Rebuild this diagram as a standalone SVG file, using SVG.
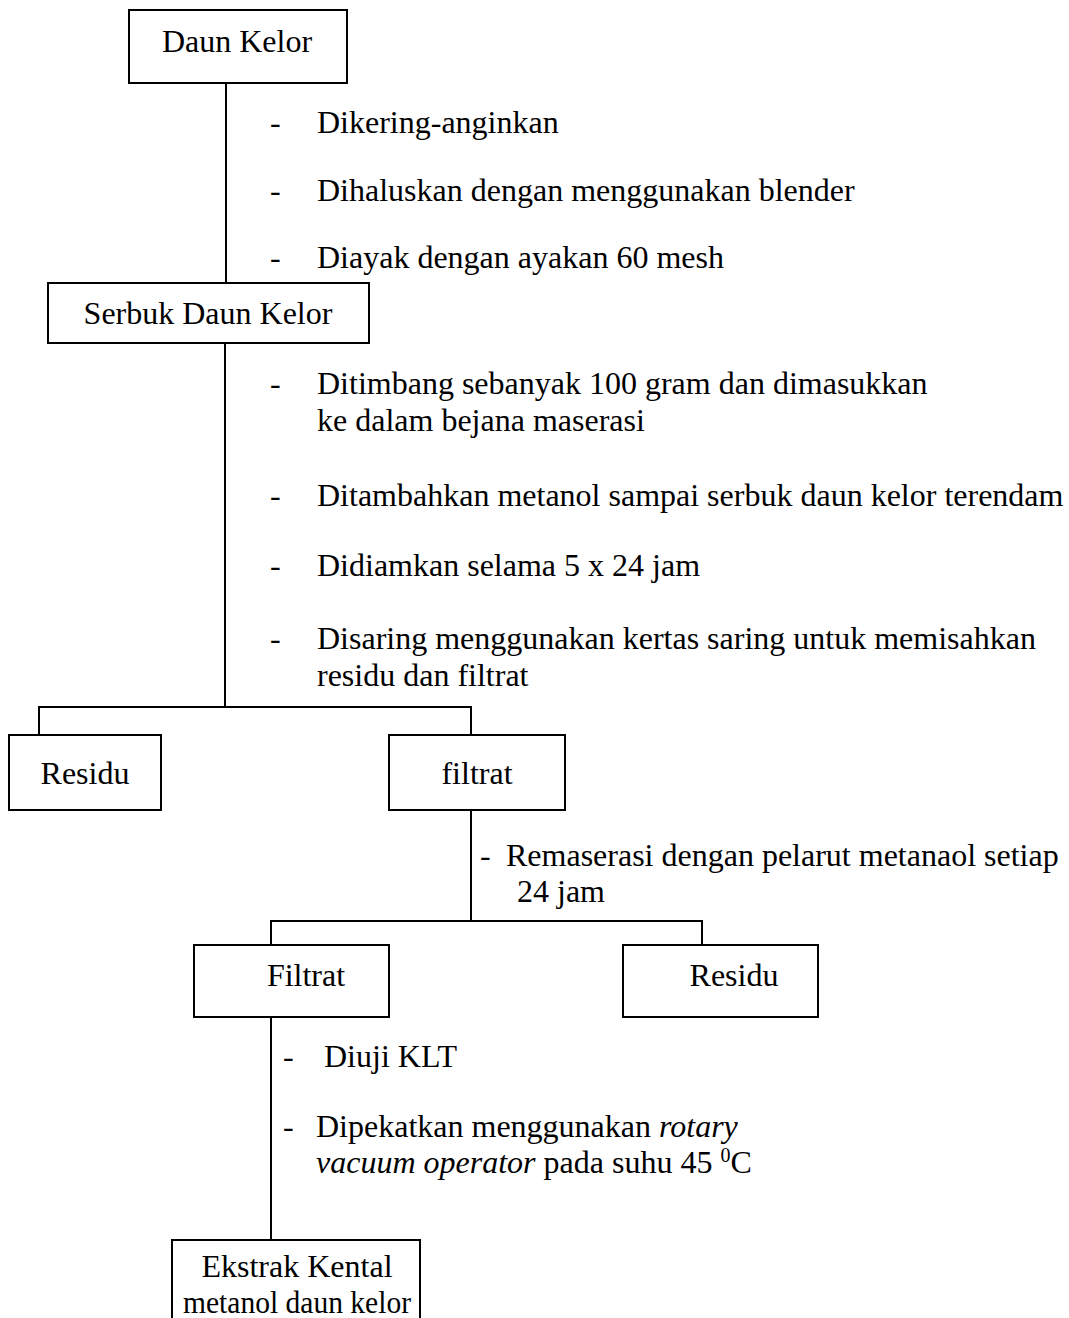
<svg xmlns="http://www.w3.org/2000/svg" width="1069" height="1318" viewBox="0 0 1069 1318">
  <style>
    .box { fill: #ffffff; stroke: #000000; stroke-width: 2; }
    .wire { fill: none; stroke: #000000; stroke-width: 2; }
    text { font-family: "Liberation Serif", "Times New Roman", serif; font-size: 32px; fill: #000000; }
    .c { text-anchor: middle; }
    .i { font-style: italic; }
  </style>
  <rect width="1069" height="1318" fill="#ffffff"/>

  <!-- connectors -->
  <g id="connectors">
    <line class="wire" x1="226" y1="83" x2="226" y2="283"/>
    <line class="wire" x1="225" y1="343" x2="225" y2="707"/>
    <polyline class="wire" points="39,735 39,707 471,707 471,735"/>
    <line class="wire" x1="471" y1="810" x2="471" y2="921"/>
    <polyline class="wire" points="271,945 271,921 702,921 702,945"/>
    <line class="wire" x1="271" y1="1017" x2="271" y2="1240"/>
  </g>

  <!-- step notes -->
  <g id="notes-1">
    <text x="270" y="133">-</text><text x="317" y="133">Dikering-anginkan</text>
    <text x="270" y="201">-</text><text x="317" y="201">Dihaluskan dengan menggunakan blender</text>
    <text x="270" y="268">-</text><text x="317" y="268">Diayak dengan ayakan 60 mesh</text>
  </g>
  <g id="notes-2">
    <text x="270" y="394">-</text><text x="317" y="394">Ditimbang sebanyak 100 gram dan dimasukkan</text>
    <text x="317" y="431">ke dalam bejana maserasi</text>
    <text x="270" y="506">-</text><text x="317" y="506">Ditambahkan metanol sampai serbuk daun kelor terendam</text>
    <text x="270" y="576">-</text><text x="317" y="576">Didiamkan selama 5 x 24 jam</text>
    <text x="270" y="649">-</text><text x="317" y="649">Disaring menggunakan kertas saring untuk memisahkan</text>
    <text x="317" y="686">residu dan filtrat</text>
  </g>
  <g id="notes-3">
    <text x="480" y="866">-</text><text x="506" y="866">Remaserasi dengan pelarut metanaol setiap</text>
    <text x="517" y="902">24 jam</text>
  </g>
  <g id="notes-4">
    <text x="283" y="1067">-</text><text x="324" y="1067">Diuji KLT</text>
    <text x="283" y="1137">-</text><text x="316" y="1137">Dipekatkan menggunakan <tspan class="i">rotary</tspan></text>
    <text x="316" y="1173"><tspan class="i">vacuum operator</tspan> pada suhu 45 <tspan font-size="20" dy="-11">0</tspan><tspan dy="11">C</tspan></text>
  </g>

  <!-- nodes -->
  <g id="daun-kelor">
    <rect class="box" x="129" y="10" width="218" height="73"/>
    <text class="c" x="237" y="52">Daun Kelor</text>
  </g>
  <g id="serbuk-daun-kelor">
    <rect class="box" x="48" y="283" width="321" height="60"/>
    <text class="c" x="208" y="324">Serbuk Daun Kelor</text>
  </g>
  <g id="residu-1">
    <rect class="box" x="9" y="735" width="152" height="75"/>
    <text class="c" x="85" y="784">Residu</text>
  </g>
  <g id="filtrat-1">
    <rect class="box" x="389" y="735" width="176" height="75"/>
    <text class="c" x="477" y="784">filtrat</text>
  </g>
  <g id="filtrat-2">
    <rect class="box" x="194" y="945" width="195" height="72"/>
    <text class="c" x="306" y="986">Filtrat</text>
  </g>
  <g id="residu-2">
    <rect class="box" x="623" y="945" width="195" height="72"/>
    <text class="c" x="734" y="986">Residu</text>
  </g>
  <g id="ekstrak-kental">
    <polyline class="wire" points="172,1320 172,1240 420,1240 420,1320"/>
    <text class="c" x="297" y="1277">Ekstrak Kental</text>
    <text class="c" x="297" y="1313" textLength="228" lengthAdjust="spacingAndGlyphs">metanol daun kelor</text>
  </g>
</svg>
